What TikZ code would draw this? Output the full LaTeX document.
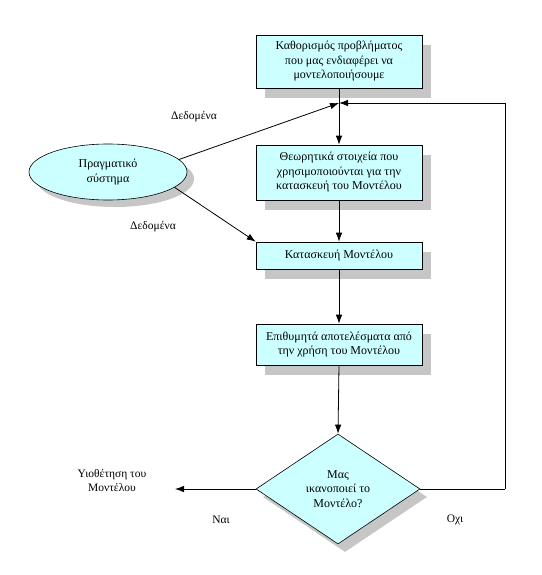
\documentclass[tikz,border=0pt]{standalone}
\usepackage{fontspec}
\setmainfont{Liberation Serif}
\usetikzlibrary{shapes.geometric,arrows.meta,shadows,patterns}
\definecolor{boxfill}{HTML}{CCFFFF}
\tikzset{
  shade/.style={drop shadow={shadow xshift=9pt,shadow yshift=-10pt,opacity=1,fill=gray!45}},
  stepbox/.style={draw=black,line width=0.6pt,fill=boxfill,minimum width=166pt,align=center,
    font=\fontsize{12}{14.5}\selectfont,inner sep=2pt,shade},
  arr/.style={line width=0.8pt,-{Latex[length=9pt,width=6.5pt]}},
  line/.style={line width=0.8pt},
  lbl/.style={font=\fontsize{11.5}{14}\selectfont,align=center,inner sep=0pt}
}
\begin{document}
\begin{tikzpicture}[x=1pt,y=-1pt]
\useasboundingbox (0,0) rectangle (541,575);
\node[stepbox,minimum height=53pt] (b1) at (339,61.5) {Καθορισμός προβλήματος\\που μας ενδιαφέρει να\\μοντελοποιήσουμε};
\node[stepbox,minimum height=55pt] (b2) at (339,172.5) {Θεωρητικά στοιχεία που\\χρησιμοποιούνται για την\\κατασκευή του Μοντέλου};
\node[stepbox,minimum height=27pt] (b3) at (339,255.5) {Κατασκευή Μοντέλου};
\node[stepbox,minimum height=41pt] (b4) at (339,344.5) {Επιθυμητά αποτελέσματα από\\την χρήση του Μοντέλου};
\node[diamond,draw=black,line width=0.6pt,fill=boxfill,minimum width=164pt,minimum height=110pt,
  inner sep=0pt,align=center,font=\fontsize{12}{14.5}\selectfont,
  drop shadow={shadow xshift=7pt,shadow yshift=-8pt,opacity=1,fill=gray!45}] (d) at (338,489) {Μας\\ικανοποιεί το\\Μοντέλο?};
\node[ellipse,draw=black,line width=0.6pt,fill=boxfill,minimum width=158pt,minimum height=56pt,
  inner sep=0pt,align=center,font=\fontsize{12}{14.5}\selectfont,
  drop shadow={shadow xshift=7pt,shadow yshift=-7pt,opacity=1,fill=gray!45}] (e) at (108,172) {Πραγματικό\\σύστημα};
\coordinate (m) at (339,103);
\coordinate (mr) at (505,103);
\coordinate (dr) at (505,489);
\coordinate (yes) at (175,489);
\draw[line] (b1.south) -- (m);
\draw[arr] (m) -- (b2.north);
\draw[arr] (b2.south) -- (b3.north);
\draw[arr] (b3.south) -- (b4.north);
\draw[arr] (b4.south) -- (d.north);
\draw[arr] (e.10) -- (m);
\draw[arr] (e.-13) -- (b3.north west);
\draw[line] (d.east) -- (dr);
\draw[arr] (dr) -- (mr) -- (m);
\draw[arr] (d.west) -- (yes);
\node[lbl] (l1) at (194,117) {Δεδομένα};
\node[lbl] (l2) at (153,227) {Δεδομένα};
\node[lbl] (ad) at (112,480) {Υιοθέτηση του\\Μοντέλου};
\node[lbl] (nai) at (221,520) {Ναι};
\node[lbl] (oxi) at (455,520) {Οχι};
\end{tikzpicture}
\end{document}
